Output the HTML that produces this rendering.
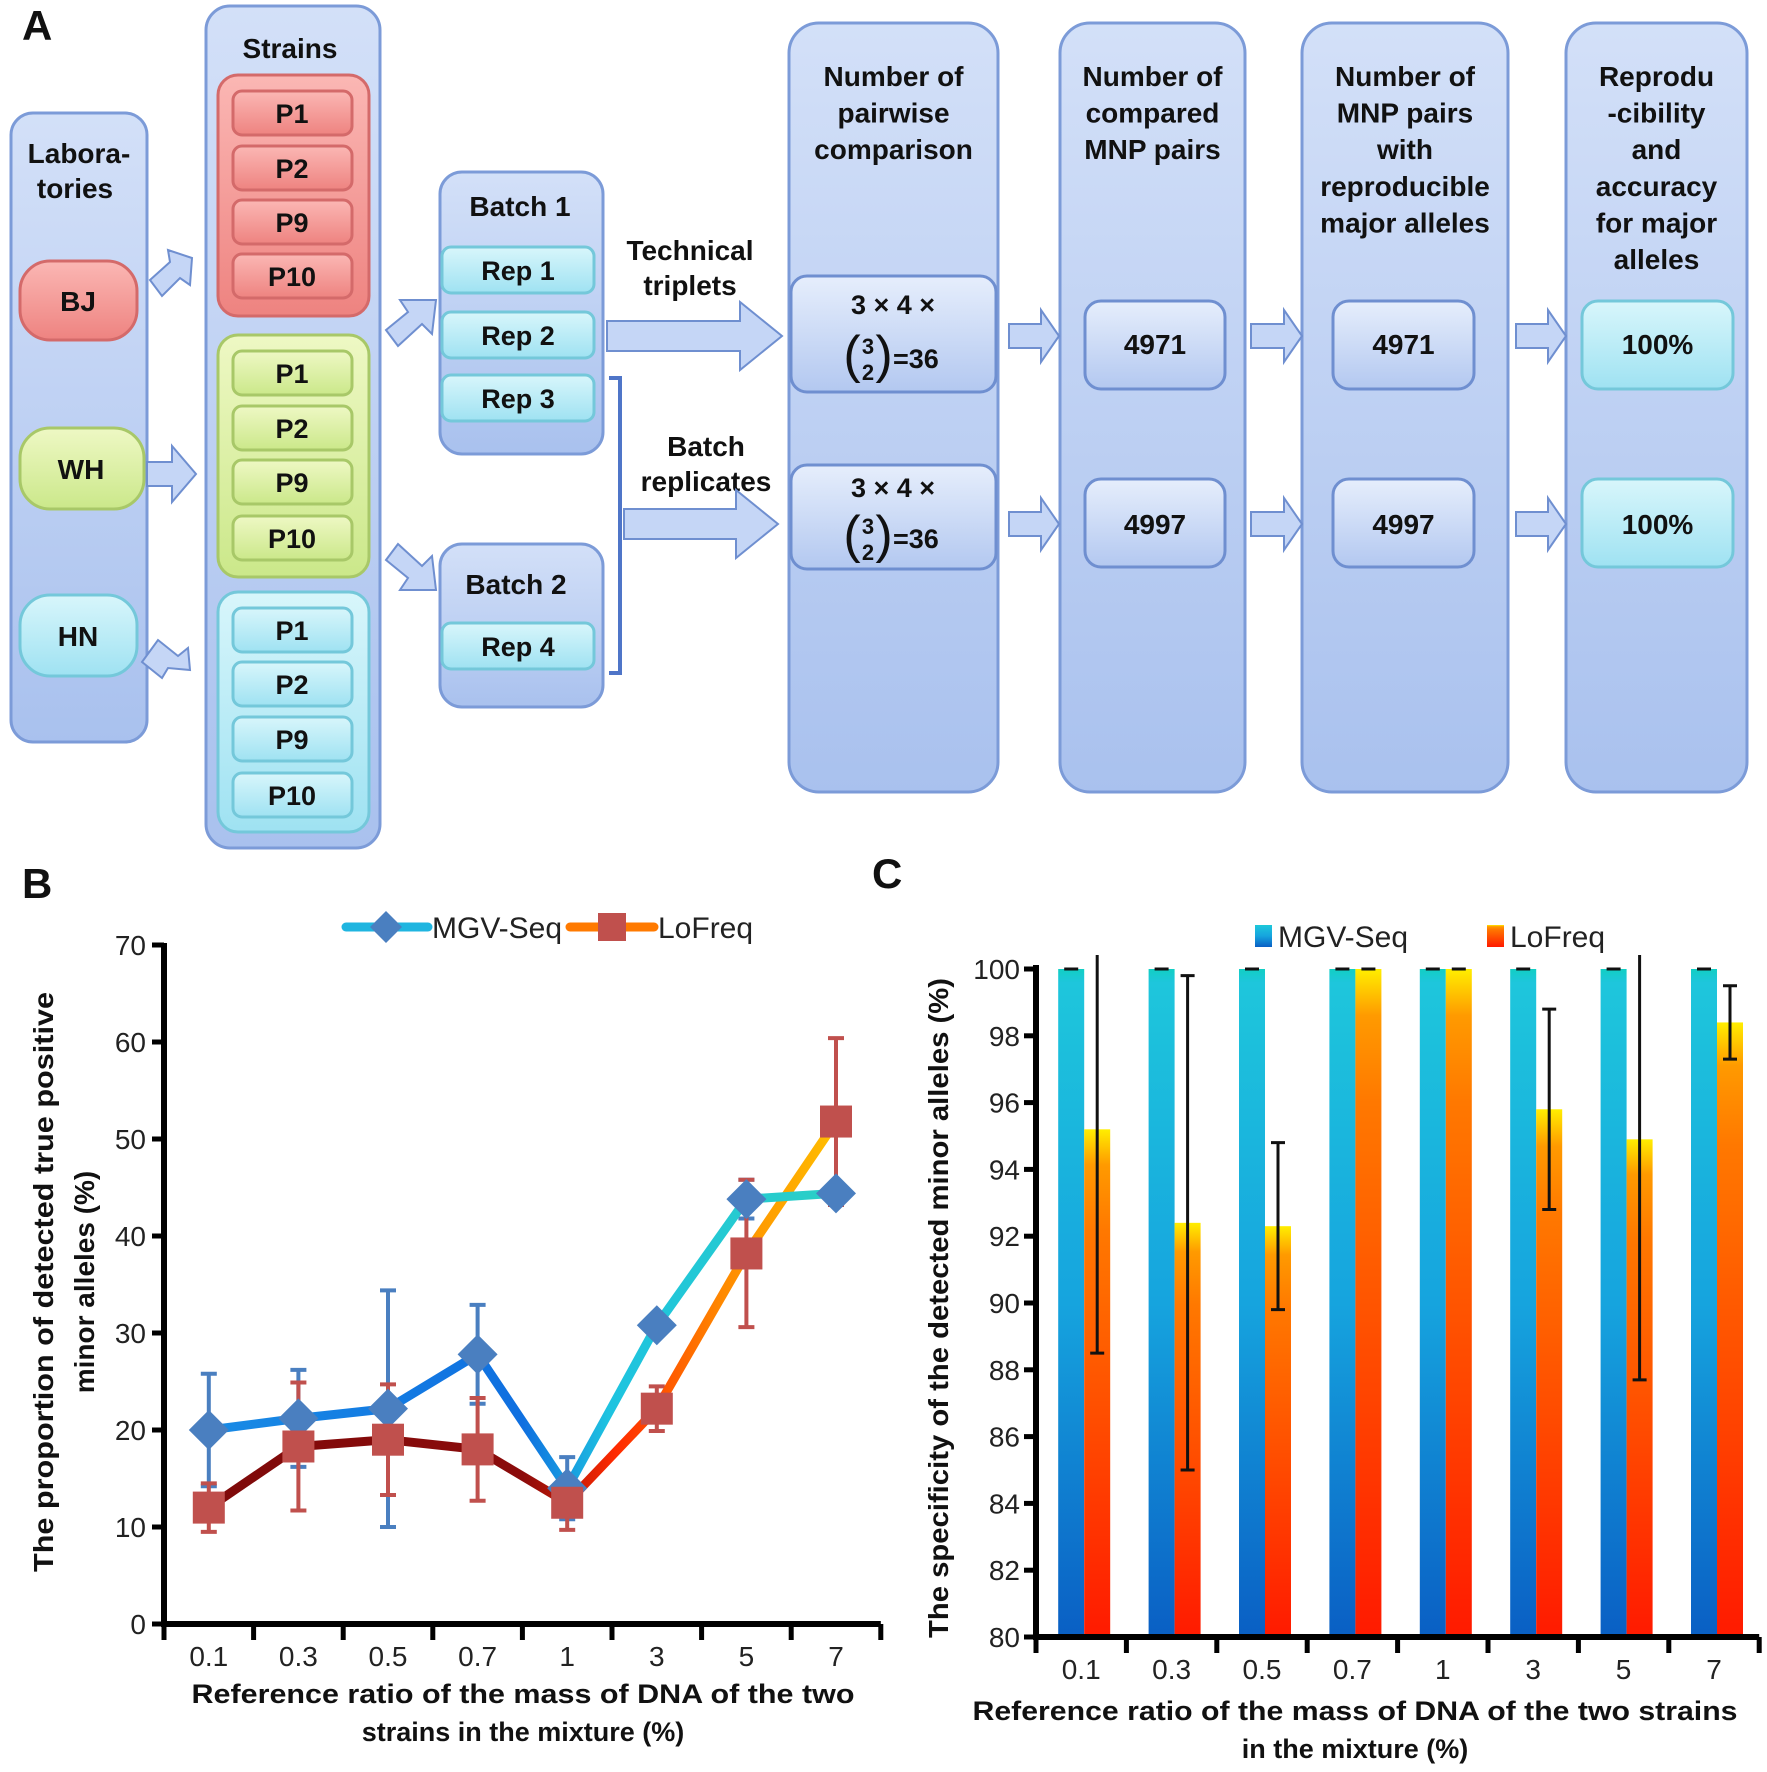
<!DOCTYPE html>
<html><head><meta charset="utf-8"><style>
html,body{margin:0;padding:0;background:#fff}
svg{display:block;font-family:"Liberation Sans",Arial,sans-serif}
.bt{font-weight:bold;fill:#111}
</style></head><body>
<svg id="fig" width="1767" height="1772" viewBox="0 0 1767 1772" xmlns="http://www.w3.org/2000/svg">
<defs>
<linearGradient id="colg" x1="0" y1="0" x2="0" y2="1"><stop offset="0" stop-color="#d3e0f8"/><stop offset="1" stop-color="#a9c1ee"/></linearGradient>
<linearGradient id="redg" x1="0" y1="0" x2="0" y2="1"><stop offset="0" stop-color="#fbb7b4"/><stop offset="1" stop-color="#ee8380"/></linearGradient>
<linearGradient id="greg" x1="0" y1="0" x2="0" y2="1"><stop offset="0" stop-color="#eef8c4"/><stop offset="1" stop-color="#cbe88a"/></linearGradient>
<linearGradient id="cyag" x1="0" y1="0" x2="0" y2="1"><stop offset="0" stop-color="#d8f6fb"/><stop offset="1" stop-color="#9fe2f2"/></linearGradient>
<linearGradient id="boxg" x1="0" y1="0" x2="0" y2="1"><stop offset="0" stop-color="#e6eefc"/><stop offset="1" stop-color="#b3c8f0"/></linearGradient>
<linearGradient id="blueBar" x1="0" y1="0" x2="0" y2="1"><stop offset="0" stop-color="#12cfc4"/><stop offset="0.02" stop-color="#1ec6dc"/><stop offset="0.5" stop-color="#16a4de"/><stop offset="1" stop-color="#0a5fc4"/></linearGradient>
<linearGradient id="orgBar" x1="0" y1="0" x2="0" y2="1"><stop offset="0" stop-color="#ffee00"/><stop offset="0.07" stop-color="#ff9a00"/><stop offset="0.2" stop-color="#ff7800"/><stop offset="1" stop-color="#ff1a00"/></linearGradient>
<linearGradient id="mgvLine" gradientUnits="userSpaceOnUse" x1="164" y1="0" x2="881" y2="0"><stop offset="0" stop-color="#1a8fe6"/><stop offset="0.5" stop-color="#0f6fe0"/><stop offset="0.62" stop-color="#1ec3e0"/><stop offset="1" stop-color="#2dd2c0"/></linearGradient>
<linearGradient id="lofLine" gradientUnits="userSpaceOnUse" x1="164" y1="0" x2="881" y2="0"><stop offset="0" stop-color="#7c0a0a"/><stop offset="0.5" stop-color="#8b0b0b"/><stop offset="0.63" stop-color="#ff2a00"/><stop offset="0.78" stop-color="#ff8a00"/><stop offset="1" stop-color="#ffd400"/></linearGradient>
</defs>

<!-- Panel A -->
<g>
<text x="22" y="40" class="bt" font-size="42">A</text>
<rect x="11" y="113" width="136" height="629" rx="22" fill="url(#colg)" stroke="#7c9bd8" stroke-width="3"/>
<text x="79" y="163" class="bt" font-size="28" text-anchor="middle"><tspan x="79">Labora-</tspan><tspan x="75" dy="35">tories</tspan></text>
<rect x="20" y="261" width="117" height="79" rx="30" fill="url(#redg)" stroke="#d46a6a" stroke-width="3"/>
<text x="78" y="311" class="bt" font-size="28" text-anchor="middle">BJ</text>
<rect x="20" y="428" width="124" height="81" rx="30" fill="url(#greg)" stroke="#a8c868" stroke-width="3"/>
<text x="81" y="479" class="bt" font-size="28" text-anchor="middle">WH</text>
<rect x="20" y="595" width="117" height="81" rx="30" fill="url(#cyag)" stroke="#74c8da" stroke-width="3"/>
<text x="78" y="646" class="bt" font-size="28" text-anchor="middle">HN</text>

<rect x="206" y="6" width="174" height="842" rx="24" fill="url(#colg)" stroke="#7c9bd8" stroke-width="3"/>
<text x="290" y="58" class="bt" font-size="28" text-anchor="middle">Strains</text>
<g id="strainGroups"></g>

<rect x="440" y="172" width="163" height="282" rx="22" fill="url(#colg)" stroke="#7c9bd8" stroke-width="3"/>
<text x="520" y="216" class="bt" font-size="28" text-anchor="middle">Batch 1</text>
<rect x="440" y="544" width="163" height="163" rx="22" fill="url(#colg)" stroke="#7c9bd8" stroke-width="3"/>
<text x="516" y="594" class="bt" font-size="28" text-anchor="middle">Batch 2</text>
<g id="reps"></g>

<polygon points="150,280 170,262 168,250 192,258 190,285 180,278 162,296" fill="#c5d6f6" stroke="#6f8fd0" stroke-width="2"/>
<polygon points="147,462 172,462 172,446 196,474 172,502 172,486 147,486" fill="#c5d6f6" stroke="#6f8fd0" stroke-width="2"/>
<polygon points="142,662 162,678 168,668 190,670 188,648 178,656 158,640" fill="#c5d6f6" stroke="#6f8fd0" stroke-width="2"/>
<polygon points="386,330 408,312 400,300 436,300 432,334 422,324 398,346" fill="#c5d6f6" stroke="#6f8fd0" stroke-width="2"/>
<polygon points="386,560 408,578 400,590 436,590 432,556 422,566 398,544" fill="#c5d6f6" stroke="#6f8fd0" stroke-width="2"/>

<text x="690" y="260" class="bt" font-size="28" text-anchor="middle"><tspan x="690">Technical</tspan><tspan x="690" dy="35">triplets</tspan></text>
<polygon points="607,321 740,321 740,302 782,336 740,370 740,351 607,351" fill="#c5d6f6" stroke="#6f8fd0" stroke-width="2"/>
<path d="M609,378 H620 V673 H609" fill="none" stroke="#4f75c8" stroke-width="4"/>
<text x="706" y="456" class="bt" font-size="28" text-anchor="middle"><tspan x="706">Batch</tspan><tspan x="706" dy="35">replicates</tspan></text>
<polygon points="624,509 736,509 736,490 778,524 736,558 736,539 624,539" fill="#c5d6f6" stroke="#6f8fd0" stroke-width="2"/>

<g id="bigcols"></g>
</g>

<g id="chartB">
<text x="22" y="898" class="bt" font-size="42">B</text>
</g>
<g id="chartC">
<text x="872" y="888" class="bt" font-size="42">C</text>
</g>
</svg>
<script>
const NS="http://www.w3.org/2000/svg";
function mk(tag,attrs,parent,txt){const e=document.createElementNS(NS,tag);for(const k in attrs)e.setAttribute(k,attrs[k]);if(txt!==undefined)e.textContent=txt;parent.appendChild(e);return e;}

const strainLabels=["P1","P2","P9","P10"];
const groupDefs=[{y:75,h:241,f:"url(#redg)",s:"#d46a6a",n:"red",c:[113,168,222,276]},{y:335,h:242,f:"url(#greg)",s:"#a8c868",n:"green",c:[373,428,482,538]},{y:592,h:240,f:"url(#cyag)",s:"#74c8da",n:"cyan",c:[630,684,739,795]}];
const sg=document.getElementById("strainGroups");
groupDefs.forEach(g=>{
  const r=mk("rect",{x:218,y:g.y,width:151,height:g.h,rx:20,fill:g.f,stroke:g.s,"stroke-width":3},sg);
  
  
  g.c.forEach((cy,i)=>{
    const b=mk("rect",{x:233,y:cy-22,width:119,height:44,rx:9,fill:g.f,stroke:g.s,"stroke-width":3},sg);
    
    
    mk("text",{x:292,y:cy+10,"class":"bt","font-size":27,"text-anchor":"middle"},sg,strainLabels[i]);
  });
});
const reps=document.getElementById("reps");
[["Rep 1",270],["Rep 2",335],["Rep 3",398],["Rep 4",646]].forEach(r=>{
  const b=mk("rect",{x:442,y:r[1]-23,width:152,height:46,rx:9,fill:"url(#cyag)",stroke:"#74c8da","stroke-width":3},reps);
  
  
  mk("text",{x:518,y:r[1]+10,"class":"bt","font-size":27,"text-anchor":"middle"},reps,r[0]);
});
const bc=document.getElementById("bigcols");
const cols=[
 {x:789,w:209,t:["Number of","pairwise","comparison"],bx:791,bw:205,n:"pairwise-comparison"},
 {x:1060,w:185,t:["Number of","compared","MNP pairs"],bx:1085,bw:140,v:["4971","4997"],n:"compared-mnp-pairs"},
 {x:1302,w:206,t:["Number of","MNP pairs","with","reproducible","major alleles"],bx:1333,bw:141,v:["4971","4997"],n:"reproducible-mnp-pairs"},
 {x:1566,w:181,t:["Reprodu","-cibility","and","accuracy","for major","alleles"],bx:1582,bw:151,v:["100%","100%"],n:"reproducibility-accuracy",cy:true}
];
cols.forEach((c,ci)=>{
  const r=mk("rect",{x:c.x,y:23,width:c.w,height:769,rx:30,fill:"url(#colg)",stroke:"#7c9bd8","stroke-width":3},bc);
  
  
  const t=mk("text",{"class":"bt","font-size":28,"text-anchor":"middle"},bc);
  c.t.forEach((l,i)=>{mk("tspan",{x:c.x+c.w/2,y:86+i*36.6},t,l);});
  [[301,88,344],[479,88,524]].forEach((row,ri)=>{
    if(ci===0){
      const y0=ri===0?276:465, h=ri===0?116:104;
      const b=mk("rect",{x:c.bx,y:y0,width:c.bw,height:h,rx:16,fill:"url(#boxg)",stroke:"#6f8fd0","stroke-width":3},bc);
      
      
      const ya=ri===0?314:497, yb=ri===0?364:544;
      mk("text",{x:893,y:ya,"class":"bt","font-size":27,"text-anchor":"middle"},bc,"3 \u00d7 4 \u00d7");
      mk("text",{x:852,y:yb+8,"font-size":52,"text-anchor":"middle",fill:"#111"},bc,"(");
      mk("text",{x:868,y:yb-10,"class":"bt","font-size":22,"text-anchor":"middle"},bc,"3");
      mk("text",{x:868,y:yb+16,"class":"bt","font-size":22,"text-anchor":"middle"},bc,"2");
      mk("text",{x:884,y:yb+8,"font-size":52,"text-anchor":"middle",fill:"#111"},bc,")");
      mk("text",{x:893,y:yb+4,"class":"bt","font-size":27},bc,"=36");
    } else {
      const b=mk("rect",{x:c.bx,y:row[0],width:c.bw,height:row[1],rx:16,fill:c.cy?"url(#cyag)":"url(#boxg)",stroke:c.cy?"#74c8da":"#6f8fd0","stroke-width":3},bc);
      
      
      mk("text",{x:c.bx+c.bw/2,y:row[2]+10,"class":"bt","font-size":28,"text-anchor":"middle"},bc,c.v[ri]);
    }
  });
});
[[1009,1059],[1251,1302],[1516,1566]].forEach((a,i)=>{
  [336,524].forEach((y,j)=>{
    const p=mk("polygon",{points:`${a[0]},${y-12} ${a[1]-18},${y-12} ${a[1]-18},${y-26} ${a[1]},${y} ${a[1]-18},${y+26} ${a[1]-18},${y+12} ${a[0]},${y+12}`,fill:"#c5d6f6",stroke:"#6f8fd0","stroke-width":2},bc);
    
    
  });
});
</script>
<script>
const catsB=["0.1","0.3","0.5","0.7","1","3","5","7"];
const mgvB=[20,21.2,22.2,27.8,14,30.8,43.8,44.4];
const mgvErrB=[5.8,5,12.2,5.1,3.2,0.7,2,1];
const lofB=[12,18.3,19,18,12.5,22.2,38.2,51.8];
const lofErrB=[2.5,6.6,5.7,5.3,2.8,2.3,7.6,8.6];
const yTicksB=[0,10,20,30,40,50,60,70];
</script>
<script>
const catsC=["0.1","0.3","0.5","0.7","1","3","5","7"];
const mgvC=[100,100,100,100,100,100,100,100];
const mgvErrC=[0,0,0,0,0,0,0,0];
const lofC=[95.2,92.4,92.3,100,100,95.8,94.9,98.4];
const lofErrC=[6.7,7.4,2.5,0,0,3,7.2,1.1];
const yTicksC=[80,82,84,86,88,90,92,94,96,98,100];
</script>
<script>
(function(){
const g=document.getElementById("chartB");
const x0=164,band=89.6,yTop=945,yBot=1624,ymin=0,ymax=70;
const X=i=>x0+band*(i+0.5);
const Y=v=>yBot-(v-ymin)/(ymax-ymin)*(yBot-yTop);
const ax=mk("path",{d:`M${x0},${yTop-2} V${yBot} H${x0+band*catsB.length}`,fill:"none",stroke:"#000","stroke-width":6},g);


yTicksB.forEach(t=>{
  mk("line",{x1:x0-12,x2:x0,y1:Y(t),y2:Y(t),stroke:"#000","stroke-width":5},g);
  const tl=mk("text",{x:x0-18,y:Y(t)+10,"font-size":28,"text-anchor":"end",fill:"#222"},g,String(t));
  
  
});
for(let i=0;i<=catsB.length;i++){mk("line",{x1:x0+band*i,x2:x0+band*i,y1:yBot,y2:yBot+16,stroke:"#000","stroke-width":5},g);}
catsB.forEach((c,i)=>{
  const tl=mk("text",{x:X(i),y:1666,"font-size":28,"text-anchor":"middle",fill:"#222"},g,c);
  
  
});
const xt=mk("text",{"class":"bt","font-size":27,"text-anchor":"middle"},g);


mk("tspan",{x:523,y:1703,textLength:663,lengthAdjust:"spacingAndGlyphs"},xt,"Reference ratio of the mass of DNA of the two");
mk("tspan",{x:523,y:1741},xt,"strains in the mixture (%)");
const yt=mk("text",{"class":"bt","font-size":28,"text-anchor":"middle",transform:"rotate(-90)"},g);


mk("tspan",{x:-1282,y:53,textLength:580,lengthAdjust:"spacingAndGlyphs"},yt,"The proportion of detected true positive");
mk("tspan",{x:-1282,y:94},yt,"minor alleles (%)");
function errs(vals,err,col,name){
  vals.forEach((v,i)=>{
    const e=mk("path",{d:`M${X(i)},${Y(v+err[i])} V${Y(v-err[i])} M${X(i)-8},${Y(v+err[i])} h16 M${X(i)-8},${Y(v-err[i])} h16`,stroke:col,"stroke-width":4,fill:"none"},g);
    
    
  });
}
errs(mgvB,mgvErrB,"#4a7fc0","mgv");
errs(lofB,lofErrB,"#c0504d","lofreq");
const lp=mk("path",{d:lofB.map((v,i)=>(i?"L":"M")+X(i)+","+Y(v)).join(" "),fill:"none",stroke:"url(#lofLine)","stroke-width":9,"stroke-linejoin":"round"},g);


const mp=mk("path",{d:mgvB.map((v,i)=>(i?"L":"M")+X(i)+","+Y(v)).join(" "),fill:"none",stroke:"url(#mgvLine)","stroke-width":9,"stroke-linejoin":"round"},g);


mgvB.forEach((v,i)=>{
  const d=mk("polygon",{points:`${X(i)},${Y(v)-20} ${X(i)+20},${Y(v)} ${X(i)},${Y(v)+20} ${X(i)-20},${Y(v)}`,fill:"#4a7fc0"},g);
  
  
});
lofB.forEach((v,i)=>{
  const s=mk("rect",{x:X(i)-16,y:Y(v)-16,width:32,height:32,fill:"#c0504d"},g);
  
  
});
const lg=mk("g",{},g);


mk("line",{x1:346,x2:428,y1:927,y2:927,stroke:"#1fb5e0","stroke-width":9,"stroke-linecap":"round"},lg);
mk("polygon",{points:"386,911 402,927 386,943 370,927",fill:"#4a7fc0"},lg);
mk("text",{x:432,y:938,"font-size":30,fill:"#222"},lg,"MGV-Seq");
mk("line",{x1:570,x2:654,y1:927,y2:927,stroke:"#ff7a00","stroke-width":9,"stroke-linecap":"round"},lg);
mk("rect",{x:598,y:913,width:28,height:28,fill:"#c0504d"},lg);
mk("text",{x:658,y:938,"font-size":30,fill:"#222"},lg,"LoFreq");
})();
(function(){
const g=document.getElementById("chartC");
const x0=1036,band=90.4,yTop=969,yBot=1637,ymin=80,ymax=100,bw=26;
const X=i=>x0+band*(i+0.5)+3;
const Y=v=>yBot-(v-ymin)/(ymax-ymin)*(yBot-yTop);
mgvC.forEach((v,i)=>{
  const b=mk("rect",{x:X(i)-bw,y:Y(v),width:bw,height:yBot-Y(v),fill:"url(#blueBar)"},g);
  
  
});
lofC.forEach((v,i)=>{
  const b=mk("rect",{x:X(i),y:Y(v),width:bw,height:yBot-Y(v),fill:"url(#orgBar)"},g);
  
  
});
function errs(vals,err,off,name){
  vals.forEach((v,i)=>{
    const cx=X(i)+off, hi=v+err[i], lo=v-err[i];
    const top=Math.max(Y(hi),yTop-14);
    let d=`M${cx},${top} V${Y(lo)} M${cx-7},${Y(lo)} h14`;
    if(Y(hi)>=yTop-14) d+=` M${cx-7},${Y(hi)} h14`;
    const e=mk("path",{d:d,stroke:"#111","stroke-width":3,fill:"none"},g);
    
    
  });
}
errs(mgvC,mgvErrC,-bw/2,"mgv");
errs(lofC,lofErrC,bw/2,"lofreq");
const ax=mk("path",{d:`M${x0},${yTop-4} V${yBot} H${x0+band*catsC.length}`,fill:"none",stroke:"#000","stroke-width":6},g);


yTicksC.forEach(t=>{
  mk("line",{x1:x0-12,x2:x0,y1:Y(t),y2:Y(t),stroke:"#000","stroke-width":5},g);
  const tl=mk("text",{x:x0-16,y:Y(t)+10,"font-size":28,"text-anchor":"end",fill:"#222"},g,String(t));
  
  
});
for(let i=0;i<=catsC.length;i++){mk("line",{x1:x0+band*i,x2:x0+band*i,y1:yBot,y2:yBot+16,stroke:"#000","stroke-width":5},g);}
catsC.forEach((c,i)=>{
  const tl=mk("text",{x:x0+band*(i+0.5),y:1679,"font-size":28,"text-anchor":"middle",fill:"#222"},g,c);
  
  
});
const xt=mk("text",{"class":"bt","font-size":27,"text-anchor":"middle"},g);


mk("tspan",{x:1355,y:1720,textLength:765,lengthAdjust:"spacingAndGlyphs"},xt,"Reference ratio of the mass of DNA of the two strains");
mk("tspan",{x:1355,y:1758},xt,"in the mixture (%)");
const yt=mk("text",{"class":"bt","font-size":28,"text-anchor":"middle",transform:"rotate(-90)",x:-1308,y:948,textLength:660,lengthAdjust:"spacingAndGlyphs"},g,"The specificity of the detected minor alleles (%)");


const lg=mk("g",{},g);


mk("rect",{x:1255,y:925,width:17,height:22,fill:"url(#blueBar)"},lg);
mk("text",{x:1278,y:947,"font-size":30,fill:"#222"},lg,"MGV-Seq");
mk("rect",{x:1487,y:925,width:17,height:22,fill:"url(#orgBar)"},lg);
mk("text",{x:1510,y:947,"font-size":30,fill:"#222"},lg,"LoFreq");
})();
</script>
</body></html>
